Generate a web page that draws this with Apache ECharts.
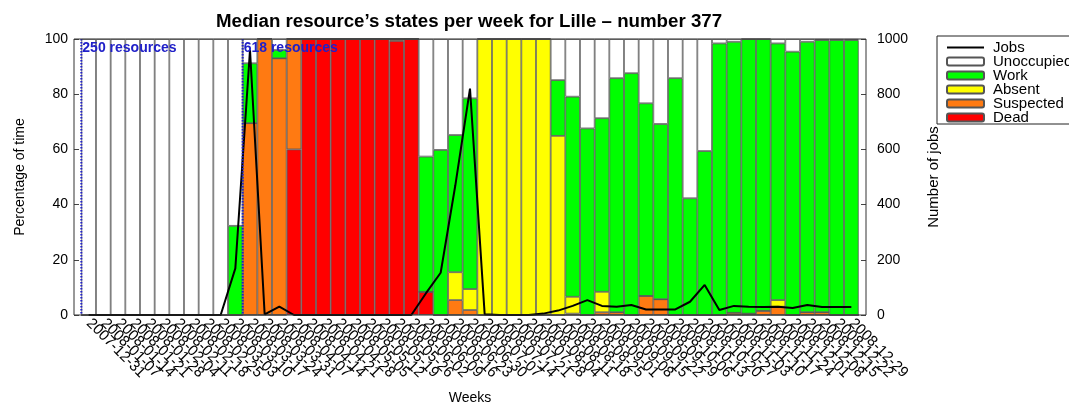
<!DOCTYPE html>
<html>
<head>
<meta charset="utf-8">
<script src="https://cdn.jsdelivr.net/npm/echarts@6/dist/echarts.min.js"></script>
<style>
html,body{margin:0;padding:0;background:#fff;}
#chart{width:1069px;height:406px;}
</style>
</head>
<body>
<div id="chart"></div>
<script>
var weeks = ['2007-12-31','2008-01-07','2008-01-14','2008-01-21','2008-01-28','2008-02-04','2008-02-11','2008-02-18','2008-02-25','2008-03-03','2008-03-10','2008-03-17','2008-03-24','2008-03-31','2008-04-07','2008-04-14','2008-04-21','2008-04-28','2008-05-05','2008-05-12','2008-05-19','2008-05-26','2008-06-02','2008-06-09','2008-06-16','2008-06-23','2008-06-30','2008-07-07','2008-07-14','2008-07-21','2008-07-28','2008-08-04','2008-08-11','2008-08-18','2008-08-25','2008-09-01','2008-09-08','2008-09-15','2008-09-22','2008-09-29','2008-10-06','2008-10-13','2008-10-20','2008-10-27','2008-11-03','2008-11-10','2008-11-17','2008-11-24','2008-12-01','2008-12-08','2008-12-15','2008-12-22','2008-12-29'];

var dead = [0,0,0,0,0,0,0,0,0,0, 0,0,0,0,60,100,100,100,100,100, 100,99.3,100,8.4,0,0,0,0,0,0, 0,0,0,0,0,0,0,0,0,0, 0,0,0,0,0,0,0,0,0,0, 0,0,0];
var suspected = [0,0,0,0,0,0,0,0,0,0, 0,69.5,100,93,40,0,0,0,0,0, 0,0.7,0,0,0,5.4,1.8,0,0,0, 0,0,0,0.5,0,1,1,0,6.9,5.7, 0,0,0,0,0.8,0.5,1.5,3,0,1, 1,0,0];
var absent = [0,0,0,0,0,0,0,0,0,0, 0,0,0,0,0,0,0,0,0,0, 0,0,0,0,0,10.1,7.6,100,100,100, 100,100,64.9,6.1,0,7.4,0,0,0,0, 0,0,0,0,0,0,0,2.4,0,0, 0,0,0];
var work = [0,0,0,0,0,0,0,0,0,0, 32.3,21.7,0,3,0,0,0,0,0,0, 0,0,0,49,59.8,49.7,69.1,0,0,0, 0,0,20.2,72.5,67.6,62.9,84.8,87.6,69.8,63.5, 85.8,42.3,59.4,98.4,98.2,99.5,98.5,93,95.4,98, 98.6,99.6,99.6];
var unoccupied = [100,100,100,100,100,100,100,100,100,100, 67.7,8.8,0,4,0,0,0,0,0,0, 0,0,0,42.6,40.2,34.8,21.5,0,0,0, 0,0,14.9,20.9,32.4,28.7,14.2,12.4,23.3,30.8, 14.2,57.7,40.6,1.6,1,0,0,1.6,4.6,1, 0.4,0.4,0.4];
var jobs = [0,0,0,0,0,0,0,0,0,0, 169,960,2,30,0,0,0,0,0,0, 0,0,0,79,153,470,820,3,0,0, 0,5,16,33,54,33,30,36,20,20, 20,48,109,18,33,30,29,30,25,36, 29,29,29];

var resourceMarks = [{week: 0, label: '250 resources'}, {week: 11, label: '618 resources'}];

var FONT = '"Liberation Sans", Arial, Helvetica, sans-serif';
var PLOT_L = 74, PLOT_R = 866, PLOT_T = 39, PLOT_B = 315;
var HALF = (PLOT_R - PLOT_L) / (weeks.length + 1) / 2;

var chart = echarts.init(document.getElementById('chart'), null, {renderer: 'canvas'});

var barBorder = {borderColor: '#555', borderWidth: 0.8};
function barSeries(name, data, color) {
  return {
    name: name, type: 'bar', stack: 'states', data: data,
    barWidth: '100%', barCategoryGap: '0%',
    itemStyle: Object.assign({color: color}, barBorder),
    emphasis: {disabled: true},
    animation: false
  };
}

var option = {
  animation: false,
  textStyle: {fontFamily: FONT},
  title: {
    text: 'Median resource\u2019s states per week for Lille \u2013 number 377',
    left: 464, top: 7, textAlign: 'center',
    textStyle: {fontFamily: FONT, fontSize: 18.7, fontWeight: 'bold', color: '#000'}
  },
  legend: {
    orient: 'vertical', left: 937, top: 37,
    padding: [3, 5, 3, 9], itemGap: -1,
    itemWidth: 37, itemHeight: 8,
    borderWidth: 0,
    textStyle: {fontFamily: FONT, fontSize: 15, lineHeight: 14, color: '#000', padding: [0, 0, 0, 4]},
    data: [{name: 'Jobs', icon: 'path://M0,0H37V2H0Z'}, 'Unoccupied', 'Work', 'Absent', 'Suspected', 'Dead']
  },
  grid: {left: PLOT_L + HALF, right: 1069 - (PLOT_R - HALF), top: PLOT_T, bottom: 406 - PLOT_B, containLabel: false, outerBoundsMode: 'none'},
  xAxis: {
    type: 'category', data: weeks, boundaryGap: true,
    name: 'Weeks', nameLocation: 'middle', nameGap: 76,
    nameTextStyle: {fontFamily: FONT, fontSize: 14, color: '#000'},
    axisLine: {show: false}, axisTick: {show: false},
    axisLabel: {interval: 0, rotate: -45, fontFamily: FONT, fontSize: 15, color: '#000', margin: 6}
  },
  yAxis: [
    {
      type: 'value', min: 0, max: 100, interval: 20, position: 'left', offset: HALF,
      name: 'Percentage of time', nameLocation: 'middle', nameRotate: 90, nameGap: 47,
      nameTextStyle: {fontFamily: FONT, fontSize: 14, color: '#000'},
      axisLine: {show: false}, axisTick: {show: true, inside: true, length: 5, lineStyle: {color: '#444'}},
      splitLine: {show: false},
      axisLabel: {fontFamily: FONT, fontSize: 14, color: '#000', margin: 6}
    },
    {
      type: 'value', min: 0, max: 1000, interval: 200, position: 'right', offset: HALF,
      name: 'Number of jobs', nameLocation: 'middle', nameRotate: 90, nameGap: 60,
      nameTextStyle: {fontFamily: FONT, fontSize: 15, color: '#000'},
      axisLine: {show: false}, axisTick: {show: true, inside: true, length: 5, lineStyle: {color: '#444'}},
      splitLine: {show: false},
      axisLabel: {fontFamily: FONT, fontSize: 14, color: '#000', margin: 11, formatter: function (v) { return String(v); }}
    }
  ],
  series: [
    barSeries('Dead', dead, '#ff0000'),
    barSeries('Suspected', suspected, '#ff7a12'),
    barSeries('Absent', absent, '#ffff00'),
    barSeries('Work', work, '#00ff00'),
    barSeries('Unoccupied', unoccupied, '#ffffff'),
    {
      name: 'Jobs', type: 'line', yAxisIndex: 1, data: jobs,
      symbol: 'none', z: 10,
      lineStyle: {color: '#000', width: 2}, itemStyle: {color: '#000'},
      emphasis: {disabled: true}
    }
  ]
};
chart.setOption(option);

var px0 = chart.convertToPixel({xAxisIndex: 0}, 0);
var px1 = chart.convertToPixel({xAxisIndex: 0}, 1);
var band = px1 - px0;
var graphics = [{
  type: 'rect', silent: true, z: 50,
  shape: {x: PLOT_L, y: PLOT_T, width: PLOT_R - PLOT_L, height: PLOT_B - PLOT_T},
  style: {fill: 'none', stroke: '#333', lineWidth: 1}
}, {
  type: 'rect', silent: true, z: 50,
  shape: {x: 937, y: 36, width: 200, height: 88},
  style: {fill: 'none', stroke: '#222', lineWidth: 1}
}];
resourceMarks.forEach(function (m) {
  var x = chart.convertToPixel({xAxisIndex: 0}, m.week) - band / 2;
  graphics.push({
    type: 'line', silent: true, z: 40,
    shape: {x1: x, y1: PLOT_T, x2: x, y2: PLOT_B},
    style: {stroke: '#2020c8', lineWidth: 2, lineDash: [1.5, 1.5]}
  });
  graphics.push({
    type: 'text', silent: true, z: 41,
    x: x + 1, y: PLOT_T + 2,
    style: {text: m.label, fill: '#2020c8', font: 'bold 14px ' + FONT, textVerticalAlign: 'top'}
  });
});
chart.setOption({graphic: graphics});
</script>
</body>
</html>
